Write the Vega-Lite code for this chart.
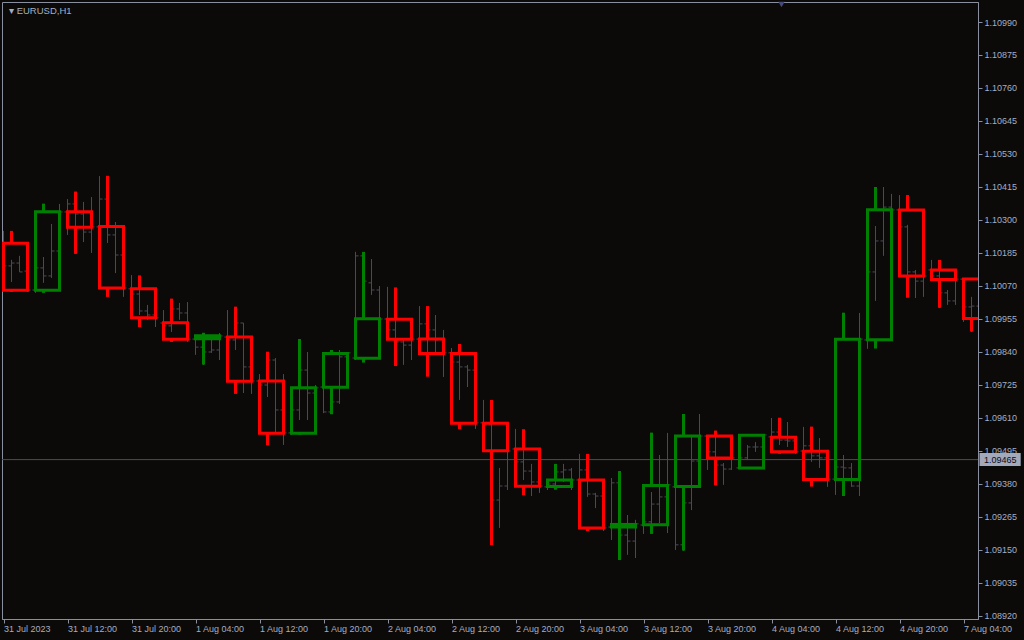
{
  "$schema": "https://vega.github.io/schema/vega-lite/v6.json",
  "width": 976,
  "height": 617,
  "autosize": {"type": "none"},
  "padding": {"left": 2, "top": 2, "right": 46, "bottom": 21},
  "background": "#0c0a08",
  "config": {
    "view": {"stroke": "#8a8f9f", "strokeWidth": 1},
    "font": "Liberation Sans",
    "axis": {"labelOverlap": false, "labelSeparation": 0, "labelFlush": false, "grid": false, "title": null}
  },
  "title": {"text": "▾  EURUSD,H1", "anchor": "start", "frame": "group", "offset": -14, "fontSize": 9.5, "fontWeight": "normal", "color": "#a4aec4", "font": "Liberation Sans", "dx": 7},
  "datasets": {
    "h4": [
      {"bar": 0, "open": 1.10219, "high": 1.10262, "low": 1.10049, "close": 1.10055},
      {"bar": 4, "open": 1.10055, "high": 1.10357, "low": 1.10046, "close": 1.10329},
      {"bar": 8, "open": 1.10329, "high": 1.10399, "low": 1.10182, "close": 1.10275},
      {"bar": 12, "open": 1.10277, "high": 1.10454, "low": 1.10032, "close": 1.10063},
      {"bar": 16, "open": 1.10060, "high": 1.10107, "low": 1.09927, "close": 1.09959},
      {"bar": 20, "open": 1.09942, "high": 1.10026, "low": 1.09875, "close": 1.09884},
      {"bar": 24, "open": 1.09886, "high": 1.09907, "low": 1.09796, "close": 1.09897},
      {"bar": 28, "open": 1.09892, "high": 1.09998, "low": 1.09694, "close": 1.09738},
      {"bar": 32, "open": 1.09739, "high": 1.09841, "low": 1.09515, "close": 1.09557},
      {"bar": 36, "open": 1.09557, "high": 1.09885, "low": 1.09552, "close": 1.09715},
      {"bar": 40, "open": 1.09717, "high": 1.09847, "low": 1.09623, "close": 1.09835},
      {"bar": 44, "open": 1.09818, "high": 1.10189, "low": 1.09803, "close": 1.09956},
      {"bar": 48, "open": 1.09954, "high": 1.10065, "low": 1.09791, "close": 1.09884},
      {"bar": 52, "open": 1.09885, "high": 1.10000, "low": 1.09754, "close": 1.09835},
      {"bar": 56, "open": 1.09835, "high": 1.09868, "low": 1.09571, "close": 1.09592},
      {"bar": 60, "open": 1.09592, "high": 1.09673, "low": 1.09167, "close": 1.09496},
      {"bar": 64, "open": 1.09502, "high": 1.09571, "low": 1.09341, "close": 1.09372},
      {"bar": 68, "open": 1.09371, "high": 1.09450, "low": 1.09360, "close": 1.09394},
      {"bar": 72, "open": 1.09394, "high": 1.09485, "low": 1.09216, "close": 1.09227},
      {"bar": 76, "open": 1.09230, "high": 1.09425, "low": 1.09115, "close": 1.09239},
      {"bar": 80, "open": 1.09238, "high": 1.09559, "low": 1.09206, "close": 1.09375},
      {"bar": 84, "open": 1.09371, "high": 1.09624, "low": 1.09148, "close": 1.09547},
      {"bar": 88, "open": 1.09547, "high": 1.09566, "low": 1.09375, "close": 1.09471},
      {"bar": 92, "open": 1.09436, "high": 1.09551, "low": 1.09436, "close": 1.09550},
      {"bar": 96, "open": 1.09543, "high": 1.09611, "low": 1.09485, "close": 1.09492},
      {"bar": 100, "open": 1.09494, "high": 1.09580, "low": 1.09371, "close": 1.09396},
      {"bar": 104, "open": 1.09396, "high": 1.09977, "low": 1.09338, "close": 1.09884},
      {"bar": 108, "open": 1.09883, "high": 1.10415, "low": 1.09852, "close": 1.10336},
      {"bar": 112, "open": 1.10335, "high": 1.10387, "low": 1.10029, "close": 1.10105},
      {"bar": 116, "open": 1.10126, "high": 1.10161, "low": 1.09994, "close": 1.10093},
      {"bar": 120, "open": 1.10094, "high": 1.10097, "low": 1.09911, "close": 1.09957}
    ],
    "h1": [
      {"h": 0, "open": 1.10220, "high": 1.10262, "low": 1.10133, "close": 1.10140},
      {"h": 1, "open": 1.10140, "high": 1.10161, "low": 1.10084, "close": 1.10150},
      {"h": 2, "open": 1.10150, "high": 1.10175, "low": 1.10119, "close": 1.10119},
      {"h": 3, "open": 1.10122, "high": 1.10133, "low": 1.10049, "close": 1.10056},
      {"h": 4, "open": 1.10056, "high": 1.10154, "low": 1.10046, "close": 1.10133},
      {"h": 5, "open": 1.10133, "high": 1.10171, "low": 1.10081, "close": 1.10105},
      {"h": 6, "open": 1.10105, "high": 1.10286, "low": 1.10098, "close": 1.10192},
      {"h": 7, "open": 1.10192, "high": 1.10356, "low": 1.10185, "close": 1.10328},
      {"h": 8, "open": 1.10328, "high": 1.10373, "low": 1.10248, "close": 1.10356},
      {"h": 9, "open": 1.10356, "high": 1.10398, "low": 1.10182, "close": 1.10321},
      {"h": 10, "open": 1.10321, "high": 1.10363, "low": 1.10223, "close": 1.10258},
      {"h": 11, "open": 1.10258, "high": 1.10380, "low": 1.10185, "close": 1.10276},
      {"h": 12, "open": 1.10276, "high": 1.10453, "low": 1.10265, "close": 1.10373},
      {"h": 13, "open": 1.10373, "high": 1.10384, "low": 1.10220, "close": 1.10248},
      {"h": 14, "open": 1.10248, "high": 1.10293, "low": 1.10115, "close": 1.10178},
      {"h": 15, "open": 1.10178, "high": 1.10196, "low": 1.10032, "close": 1.10063},
      {"h": 16, "open": 1.10060, "high": 1.10108, "low": 1.10021, "close": 1.10042},
      {"h": 17, "open": 1.10042, "high": 1.10067, "low": 1.09969, "close": 1.09983},
      {"h": 18, "open": 1.09983, "high": 1.10004, "low": 1.09952, "close": 1.09969},
      {"h": 19, "open": 1.09969, "high": 1.09986, "low": 1.09927, "close": 1.09959},
      {"h": 20, "open": 1.09941, "high": 1.09986, "low": 1.09882, "close": 1.09931},
      {"h": 21, "open": 1.09931, "high": 1.10025, "low": 1.09910, "close": 1.09990},
      {"h": 22, "open": 1.09990, "high": 1.10011, "low": 1.09952, "close": 1.09976},
      {"h": 23, "open": 1.09976, "high": 1.10014, "low": 1.09875, "close": 1.09885},
      {"h": 24, "open": 1.09885, "high": 1.09896, "low": 1.09830, "close": 1.09857},
      {"h": 25, "open": 1.09857, "high": 1.09882, "low": 1.09795, "close": 1.09840},
      {"h": 26, "open": 1.09840, "high": 1.09892, "low": 1.09837, "close": 1.09847},
      {"h": 27, "open": 1.09847, "high": 1.09906, "low": 1.09812, "close": 1.09896},
      {"h": 28, "open": 1.09892, "high": 1.09986, "low": 1.09864, "close": 1.09882},
      {"h": 29, "open": 1.09882, "high": 1.09997, "low": 1.09847, "close": 1.09941},
      {"h": 30, "open": 1.09941, "high": 1.09941, "low": 1.09697, "close": 1.09788},
      {"h": 31, "open": 1.09788, "high": 1.09802, "low": 1.09694, "close": 1.09739},
      {"h": 32, "open": 1.09739, "high": 1.09763, "low": 1.09701, "close": 1.09725},
      {"h": 33, "open": 1.09725, "high": 1.09840, "low": 1.09683, "close": 1.09812},
      {"h": 34, "open": 1.09812, "high": 1.09819, "low": 1.09558, "close": 1.09638},
      {"h": 35, "open": 1.09638, "high": 1.09763, "low": 1.09516, "close": 1.09558},
      {"h": 36, "open": 1.09558, "high": 1.09655, "low": 1.09551, "close": 1.09638},
      {"h": 37, "open": 1.09638, "high": 1.09885, "low": 1.09603, "close": 1.09777},
      {"h": 38, "open": 1.09777, "high": 1.09840, "low": 1.09603, "close": 1.09697},
      {"h": 39, "open": 1.09697, "high": 1.09725, "low": 1.09558, "close": 1.09715},
      {"h": 40, "open": 1.09718, "high": 1.09742, "low": 1.09627, "close": 1.09631},
      {"h": 41, "open": 1.09631, "high": 1.09690, "low": 1.09624, "close": 1.09666},
      {"h": 42, "open": 1.09666, "high": 1.09847, "low": 1.09659, "close": 1.09823},
      {"h": 43, "open": 1.09823, "high": 1.09840, "low": 1.09795, "close": 1.09837},
      {"h": 44, "open": 1.09819, "high": 1.10189, "low": 1.09812, "close": 1.10175},
      {"h": 45, "open": 1.10175, "high": 1.10182, "low": 1.10074, "close": 1.10087},
      {"h": 46, "open": 1.10081, "high": 1.10164, "low": 1.10039, "close": 1.10056},
      {"h": 47, "open": 1.10056, "high": 1.10070, "low": 1.09934, "close": 1.09955},
      {"h": 48, "open": 1.09955, "high": 1.10067, "low": 1.09917, "close": 1.09917},
      {"h": 49, "open": 1.09917, "high": 1.10056, "low": 1.09791, "close": 1.09875},
      {"h": 50, "open": 1.09875, "high": 1.09882, "low": 1.09795, "close": 1.09864},
      {"h": 51, "open": 1.09864, "high": 1.09892, "low": 1.09812, "close": 1.09885},
      {"h": 52, "open": 1.09885, "high": 1.10000, "low": 1.09882, "close": 1.09938},
      {"h": 53, "open": 1.09938, "high": 1.09986, "low": 1.09756, "close": 1.09917},
      {"h": 54, "open": 1.09917, "high": 1.09969, "low": 1.09837, "close": 1.09882},
      {"h": 55, "open": 1.09882, "high": 1.09917, "low": 1.09753, "close": 1.09837},
      {"h": 56, "open": 1.09837, "high": 1.09854, "low": 1.09791, "close": 1.09805},
      {"h": 57, "open": 1.09805, "high": 1.09868, "low": 1.09673, "close": 1.09788},
      {"h": 58, "open": 1.09788, "high": 1.09795, "low": 1.09718, "close": 1.09777},
      {"h": 59, "open": 1.09777, "high": 1.09830, "low": 1.09572, "close": 1.09593},
      {"h": 60, "open": 1.09593, "high": 1.09673, "low": 1.09568, "close": 1.09586},
      {"h": 61, "open": 1.09586, "high": 1.09655, "low": 1.09168, "close": 1.09324},
      {"h": 62, "open": 1.09324, "high": 1.09436, "low": 1.09227, "close": 1.09373},
      {"h": 63, "open": 1.09373, "high": 1.09499, "low": 1.09359, "close": 1.09495},
      {"h": 64, "open": 1.09502, "high": 1.09572, "low": 1.09446, "close": 1.09457},
      {"h": 65, "open": 1.09457, "high": 1.09499, "low": 1.09394, "close": 1.09425},
      {"h": 66, "open": 1.09425, "high": 1.09450, "low": 1.09338, "close": 1.09387},
      {"h": 67, "open": 1.09387, "high": 1.09453, "low": 1.09349, "close": 1.09373},
      {"h": 68, "open": 1.09370, "high": 1.09394, "low": 1.09359, "close": 1.09380},
      {"h": 69, "open": 1.09380, "high": 1.09450, "low": 1.09363, "close": 1.09422},
      {"h": 70, "open": 1.09422, "high": 1.09450, "low": 1.09387, "close": 1.09429},
      {"h": 71, "open": 1.09429, "high": 1.09436, "low": 1.09359, "close": 1.09394},
      {"h": 72, "open": 1.09394, "high": 1.09485, "low": 1.09387, "close": 1.09429},
      {"h": 73, "open": 1.09429, "high": 1.09471, "low": 1.09335, "close": 1.09345},
      {"h": 74, "open": 1.09345, "high": 1.09349, "low": 1.09296, "close": 1.09338},
      {"h": 75, "open": 1.09338, "high": 1.09349, "low": 1.09216, "close": 1.09227},
      {"h": 76, "open": 1.09230, "high": 1.09401, "low": 1.09185, "close": 1.09384},
      {"h": 77, "open": 1.09384, "high": 1.09425, "low": 1.09115, "close": 1.09202},
      {"h": 78, "open": 1.09202, "high": 1.09272, "low": 1.09133, "close": 1.09181},
      {"h": 79, "open": 1.09181, "high": 1.09255, "low": 1.09122, "close": 1.09241},
      {"h": 80, "open": 1.09237, "high": 1.09255, "low": 1.09206, "close": 1.09248},
      {"h": 81, "open": 1.09248, "high": 1.09352, "low": 1.09227, "close": 1.09310},
      {"h": 82, "open": 1.09310, "high": 1.09481, "low": 1.09244, "close": 1.09335},
      {"h": 83, "open": 1.09335, "high": 1.09558, "low": 1.09209, "close": 1.09377},
      {"h": 84, "open": 1.09370, "high": 1.09377, "low": 1.09150, "close": 1.09168},
      {"h": 85, "open": 1.09168, "high": 1.09320, "low": 1.09147, "close": 1.09314},
      {"h": 86, "open": 1.09314, "high": 1.09544, "low": 1.09289, "close": 1.09460},
      {"h": 87, "open": 1.09460, "high": 1.09624, "low": 1.09457, "close": 1.09547},
      {"h": 88, "open": 1.09547, "high": 1.09547, "low": 1.09429, "close": 1.09492},
      {"h": 89, "open": 1.09492, "high": 1.09565, "low": 1.09377, "close": 1.09446},
      {"h": 90, "open": 1.09446, "high": 1.09453, "low": 1.09377, "close": 1.09432},
      {"h": 91, "open": 1.09432, "high": 1.09471, "low": 1.09429, "close": 1.09471},
      {"h": 92, "open": 1.09436, "high": 1.09481, "low": 1.09436, "close": 1.09471},
      {"h": 93, "open": 1.09471, "high": 1.09516, "low": 1.09464, "close": 1.09509},
      {"h": 94, "open": 1.09509, "high": 1.09526, "low": 1.09492, "close": 1.09509},
      {"h": 95, "open": 1.09509, "high": 1.09551, "low": 1.09499, "close": 1.09551},
      {"h": 96, "open": 1.09544, "high": 1.09610, "low": 1.09540, "close": 1.09561},
      {"h": 97, "open": 1.09561, "high": 1.09603, "low": 1.09516, "close": 1.09533},
      {"h": 98, "open": 1.09533, "high": 1.09596, "low": 1.09509, "close": 1.09530},
      {"h": 99, "open": 1.09530, "high": 1.09544, "low": 1.09485, "close": 1.09492},
      {"h": 100, "open": 1.09495, "high": 1.09579, "low": 1.09492, "close": 1.09513},
      {"h": 101, "open": 1.09513, "high": 1.09568, "low": 1.09457, "close": 1.09478},
      {"h": 102, "open": 1.09478, "high": 1.09540, "low": 1.09436, "close": 1.09471},
      {"h": 103, "open": 1.09471, "high": 1.09499, "low": 1.09370, "close": 1.09397},
      {"h": 104, "open": 1.09397, "high": 1.09446, "low": 1.09342, "close": 1.09439},
      {"h": 105, "open": 1.09439, "high": 1.09481, "low": 1.09377, "close": 1.09436},
      {"h": 106, "open": 1.09436, "high": 1.09453, "low": 1.09370, "close": 1.09373},
      {"h": 107, "open": 1.09373, "high": 1.09976, "low": 1.09338, "close": 1.09885},
      {"h": 108, "open": 1.09882, "high": 1.10126, "low": 1.09851, "close": 1.10119},
      {"h": 109, "open": 1.10119, "high": 1.10279, "low": 1.10018, "close": 1.10227},
      {"h": 110, "open": 1.10227, "high": 1.10415, "low": 1.10175, "close": 1.10345},
      {"h": 111, "open": 1.10345, "high": 1.10391, "low": 1.10328, "close": 1.10335},
      {"h": 112, "open": 1.10335, "high": 1.10387, "low": 1.10265, "close": 1.10276},
      {"h": 113, "open": 1.10276, "high": 1.10283, "low": 1.10108, "close": 1.10119},
      {"h": 114, "open": 1.10119, "high": 1.10126, "low": 1.10028, "close": 1.10087},
      {"h": 115, "open": 1.10087, "high": 1.10108, "low": 1.10032, "close": 1.10105},
      {"h": 116, "open": 1.10126, "high": 1.10161, "low": 1.10098, "close": 1.10105},
      {"h": 117, "open": 1.10105, "high": 1.10143, "low": 1.09993, "close": 1.10046},
      {"h": 118, "open": 1.10046, "high": 1.10056, "low": 1.10004, "close": 1.10018},
      {"h": 119, "open": 1.10018, "high": 1.10094, "low": 1.10004, "close": 1.10094},
      {"h": 120, "open": 1.10094, "high": 1.10094, "low": 1.09945, "close": 1.09997},
      {"h": 121, "open": 1.09997, "high": 1.10032, "low": 1.09910, "close": 1.10000},
      {"h": 122, "open": 1.10000, "high": 1.10021, "low": 1.09934, "close": 1.09979},
      {"h": 123, "open": 1.09979, "high": 1.10004, "low": 1.09945, "close": 1.09959}
    ]
  },
  "layer": [
    {
      "data": {"name": "h1"},
      "mark": {"type": "rule", "color": "#4a4a56", "strokeWidth": 1, "clip": true},
      "encoding": {
        "x": {
          "field": "h", "type": "quantitative",
          "scale": {"domain": [-0.1875, 121.8125], "nice": false, "zero": false},
          "axis": {
            "orient": "bottom", "title": null, "grid": false, "tickCount": 50,
            "values": [0, 8, 16, 24, 32, 40, 48, 56, 64, 72, 80, 88, 96, 104, 112, 120],
            "labelExpr": "['31 Jul 2023','31 Jul 12:00','31 Jul 20:00','1 Aug 04:00','1 Aug 12:00','1 Aug 20:00','2 Aug 04:00','2 Aug 12:00','2 Aug 20:00','3 Aug 04:00','3 Aug 12:00','3 Aug 20:00','4 Aug 04:00','4 Aug 12:00','4 Aug 20:00','7 Aug 04:00'][round(datum.value / 8)]",
            "labelAlign": "left", "labelBaseline": "top", "labelPadding": 1,
            "labelFlush": false, "labelOverlap": false, "labelBound": false,
            "labelFont": "Liberation Sans", "labelFontSize": 9, "labelColor": "#a4aec4",
            "tickSize": 4, "tickColor": "#8a8f9f", "domainColor": "#8a8f9f"
          }
        },
        "y": {
          "field": "low", "type": "quantitative",
          "scale": {"domain": [1.089095, 1.110597], "nice": false, "zero": false},
          "axis": {
            "orient": "right", "title": null, "grid": false, "tickCount": 50,
            "values": [1.0892, 1.09035, 1.0915, 1.09265, 1.0938, 1.09495, 1.0961, 1.09725, 1.0984, 1.09955, 1.1007, 1.10185, 1.103, 1.10415, 1.1053, 1.10645, 1.1076, 1.10875, 1.1099],
            "format": ".5f", "labelPadding": 2, "labelFlush": false, "labelOverlap": false,
            "labelFont": "Liberation Sans", "labelFontSize": 9, "labelColor": "#a4aec4",
            "tickSize": 4, "tickColor": "#8a8f9f", "domainColor": "#8a8f9f"
          }
        },
        "y2": {"field": "high"}
      }
    },
    {
      "data": {"name": "h1"},
      "transform": [{"calculate": "datum.h - 0.375", "as": "hl"}],
      "mark": {"type": "rule", "color": "#4a4a56", "strokeWidth": 1, "clip": true},
      "encoding": {
        "x": {"field": "hl", "type": "quantitative", "scale": {"domain": [-0.1875, 121.8125], "nice": false, "zero": false}},
        "x2": {"field": "h"},
        "y": {"field": "open", "type": "quantitative", "scale": {"domain": [1.089095, 1.110597], "nice": false, "zero": false}}
      }
    },
    {
      "data": {"name": "h1"},
      "transform": [{"calculate": "datum.h + 0.375", "as": "hr"}],
      "mark": {"type": "rule", "color": "#4a4a56", "strokeWidth": 1, "clip": true},
      "encoding": {
        "x": {"field": "h", "type": "quantitative", "scale": {"domain": [-0.1875, 121.8125], "nice": false, "zero": false}},
        "x2": {"field": "hr"},
        "y": {"field": "close", "type": "quantitative", "scale": {"domain": [1.089095, 1.110597], "nice": false, "zero": false}}
      }
    },
    {
      "data": {"values": [{"price": 1.09465}]},
      "mark": {"type": "rule", "color": "#4c4c5c", "strokeWidth": 1, "clip": true},
      "encoding": {
        "y": {"field": "price", "type": "quantitative", "scale": {"domain": [1.089095, 1.110597], "nice": false, "zero": false}}
      }
    },
    {
      "data": {"name": "h4"},
      "transform": [
        {"calculate": "datum.bar + 1", "as": "wx"},
        {"calculate": "max(datum.open, datum.close)", "as": "bodyTop"}
      ],
      "mark": {"type": "rule", "strokeWidth": 3, "clip": true},
      "encoding": {
        "x": {"field": "wx", "type": "quantitative", "scale": {"domain": [-0.1875, 121.8125], "nice": false, "zero": false}},
        "y": {"field": "high", "type": "quantitative", "scale": {"domain": [1.089095, 1.110597], "nice": false, "zero": false}},
        "y2": {"field": "bodyTop"},
        "color": {"condition": {"test": "datum.close >= datum.open", "value": "#008000"}, "value": "#ff0000"}
      }
    },
    {
      "data": {"name": "h4"},
      "transform": [
        {"calculate": "datum.bar + 1", "as": "wx"},
        {"calculate": "min(datum.open, datum.close)", "as": "bodyBottom"}
      ],
      "mark": {"type": "rule", "strokeWidth": 3, "clip": true},
      "encoding": {
        "x": {"field": "wx", "type": "quantitative", "scale": {"domain": [-0.1875, 121.8125], "nice": false, "zero": false}},
        "y": {"field": "bodyBottom", "type": "quantitative", "scale": {"domain": [1.089095, 1.110597], "nice": false, "zero": false}},
        "y2": {"field": "low"},
        "color": {"condition": {"test": "datum.close >= datum.open", "value": "#008000"}, "value": "#ff0000"}
      }
    },
    {
      "data": {"name": "h4"},
      "transform": [{"calculate": "datum.bar + 3", "as": "barEnd"}],
      "mark": {"type": "rect", "filled": false, "strokeWidth": 3, "strokeJoin": "miter", "clip": true},
      "encoding": {
        "x": {"field": "bar", "type": "quantitative", "scale": {"domain": [-0.1875, 121.8125], "nice": false, "zero": false}},
        "x2": {"field": "barEnd"},
        "y": {"field": "open", "type": "quantitative", "scale": {"domain": [1.089095, 1.110597], "nice": false, "zero": false}},
        "y2": {"field": "close"},
        "color": {"condition": {"test": "datum.close >= datum.open", "value": "#008000"}, "value": "#ff0000"}
      }
    },
    {
      "data": {"values": [{"price": 1.09465, "label": "1.09465"}]},
      "transform": [
        {"calculate": "datum.price + 0.00023", "as": "boxTop"},
        {"calculate": "datum.price - 0.00022", "as": "boxBottom"}
      ],
      "mark": {"type": "rect", "color": "#a3a8ba", "clip": false},
      "encoding": {
        "x": {"datum": 122.0, "type": "quantitative", "scale": {"domain": [-0.1875, 121.8125], "nice": false, "zero": false}},
        "x2": {"datum": 127.15},
        "y": {"field": "boxTop", "type": "quantitative", "scale": {"domain": [1.089095, 1.110597], "nice": false, "zero": false}},
        "y2": {"field": "boxBottom"}
      }
    },
    {
      "data": {"values": [{"price": 1.09465, "label": "1.09465"}]},
      "mark": {"type": "text", "color": "#0c0a14", "align": "left", "baseline": "middle", "font": "Liberation Sans", "fontSize": 9, "clip": false},
      "encoding": {
        "x": {"datum": 122.55, "type": "quantitative", "scale": {"domain": [-0.1875, 121.8125], "nice": false, "zero": false}},
        "y": {"field": "price", "type": "quantitative", "scale": {"domain": [1.089095, 1.110597], "nice": false, "zero": false}},
        "text": {"field": "label"}
      }
    },
    {
      "data": {"values": [{"h": 97.25, "price": 1.11051}]},
      "mark": {"type": "point", "shape": "triangle-down", "filled": true, "color": "#464a7a", "size": 40, "opacity": 1, "clip": false},
      "encoding": {
        "x": {"field": "h", "type": "quantitative", "scale": {"domain": [-0.1875, 121.8125], "nice": false, "zero": false}},
        "y": {"field": "price", "type": "quantitative", "scale": {"domain": [1.089095, 1.110597], "nice": false, "zero": false}}
      }
    }
  ]
}
